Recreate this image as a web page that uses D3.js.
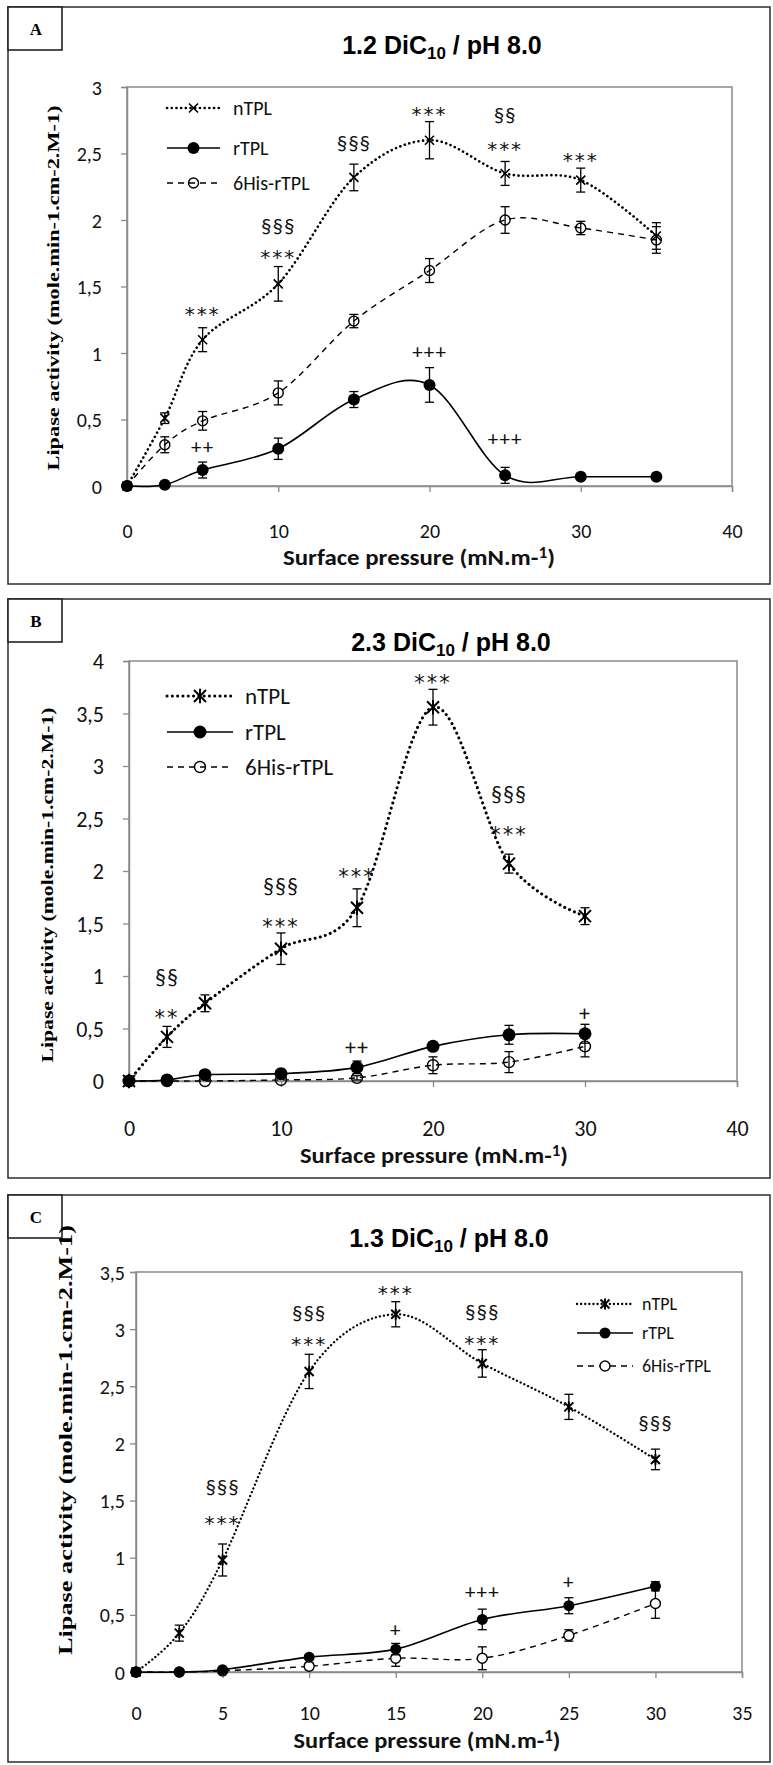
<!DOCTYPE html>
<html>
<head>
<meta charset="utf-8">
<script src="https://cdn.jsdelivr.net/npm/d3@7"></script>
<style>
  body { margin: 0; background: #fff; }
  svg { display: block; }
</style>
</head>
<body>
<svg id="chart"></svg>
<script>
// ---------- data ----------
const seriesNames = ["nTPL", "rTPL", "6His-rTPL"];

// panel A : 1.2 DiC10
const pressureA = [0, 2.5, 5, 10, 15, 20, 25, 30, 35];
const nTplA    = [0, 0.51, 1.10, 1.52, 2.32, 2.60, 2.35, 2.30, 1.88];
const nTplErrA = [0, 0.04, 0.09, 0.13, 0.10, 0.14, 0.09, 0.09, 0.10];
const rTplA    = [0, 0.01, 0.12, 0.28, 0.65, 0.76, 0.08, 0.07, 0.07];
const rTplErrA = [0, 0, 0.06, 0.08, 0.06, 0.13, 0.06, 0, 0];
const hisA     = [0, 0.31, 0.49, 0.70, 1.24, 1.62, 2.00, 1.94, 1.85];
const hisErrA  = [0, 0.06, 0.07, 0.09, 0.05, 0.09, 0.10, 0.05, 0.10];
const xTicksA = [0, 10, 20, 30, 40];
const yTicksA = [0, 0.5, 1, 1.5, 2, 2.5, 3];
// [pressure, activity level of the label, text]
const marksA = [
  [5, 1.34, "***"], [5, 0.29, "++"],
  [10, 1.95, "§§§"], [10, 1.77, "***"],
  [15, 2.58, "§§§"], [20, 2.84, "***"],
  [25, 2.79, "§§"], [25, 2.58, "***"], [30, 2.50, "***"],
  [20, 1.01, "+++"], [25, 0.35, "+++"]
];

// panel B : 2.3 DiC10
const pressureB = [0, 2.5, 5, 10, 15, 20, 25, 30];
const nTplB    = [0, 0.42, 0.74, 1.26, 1.65, 3.56, 2.07, 1.57];
const nTplErrB = [0, 0.10, 0.08, 0.15, 0.18, 0.17, 0.09, 0.08];
const rTplB    = [0, 0.01, 0.06, 0.07, 0.13, 0.33, 0.44, 0.45];
const rTplErrB = [0, 0, 0.02, 0.03, 0.06, 0.04, 0.09, 0.09];
const hisB     = [0, 0, 0, 0.01, 0.03, 0.15, 0.18, 0.33];
const hisErrB  = [0, 0, 0, 0, 0.02, 0.08, 0.10, 0.10];
const xTicksB = [0, 10, 20, 30, 40];
const yTicksB = [0, 0.5, 1, 1.5, 2, 2.5, 3, 3.5, 4];
const marksB = [
  [2.5, 0.98, "§§"], [2.5, 0.66, "**"],
  [10, 1.85, "§§§"], [10, 1.53, "***"],
  [15, 2.01, "***"], [20, 3.85, "***"],
  [25, 2.72, "§§§"], [25, 2.41, "***"],
  [15, 0.32, "++"], [30, 0.64, "+"]
];

// panel C : 1.3 DiC10
const pressureC = [0, 2.5, 5, 10, 15, 20, 25, 30];
const nTplC    = [0, 0.34, 0.98, 2.63, 3.13, 2.70, 2.32, 1.86];
const nTplErrC = [0, 0.07, 0.14, 0.15, 0.11, 0.12, 0.11, 0.09];
const rTplC    = [0, 0, 0.02, 0.13, 0.20, 0.46, 0.58, 0.75];
const rTplErrC = [0, 0, 0, 0.02, 0.05, 0.09, 0.07, 0.04];
const hisC     = [0, 0, 0.01, 0.05, 0.12, 0.12, 0.32, 0.60];
const hisErrC  = [0, 0, 0, 0.03, 0.07, 0.10, 0.05, 0.13];
const xTicksC = [0, 5, 10, 15, 20, 25, 30, 35];
const yTicksC = [0, 0.5, 1, 1.5, 2, 2.5, 3, 3.5];
const marksC = [
  [5, 1.62, "§§§"], [5, 1.36, "***"],
  [10, 3.14, "§§§"], [10, 2.92, "***"],
  [15, 3.37, "***"],
  [20, 3.15, "§§§"], [20, 2.93, "***"],
  [30, 2.18, "§§§"],
  [15, 0.37, "+"], [20, 0.70, "+++"], [25, 0.79, "+"]
];

// ---------- layout ----------
const W = 773, H = 1765;
const SANS = "Carlito, Lato, 'Liberation Sans', sans-serif";
const SERIF = "'Liberation Serif', 'DejaVu Serif', serif";
const ARIAL = "'Liberation Sans', Arial, sans-serif";
const STAR = "'DejaVu Sans', sans-serif";

const panels = [
  {
    label: "A", title: ["1.2 DiC", "10", " / pH 8.0"],
    box: { x0: 8, y0: 7, x1: 770, y1: 584 },
    plot: { left: 127, top: 87, right: 732, bottom: 486 },
    titleX: 442, titleY: 54, titleSize: 25,
    xDomain: [0, 40], yDomain: [0, 3], xTicks: xTicksA, yTicks: yTicksA,
    tickSize: 20, yLabelGap: 25, xLabelY: 538, xTitle: { x: 419, y: 565, len: 272, size: 22 },
    yTitle: { x: 53, y: 288, len: 365, size: 17 },
    x: pressureA,
    series: [
      { v: hisA, e: hisErrA }, { v: rTplA, e: rTplErrA }, { v: nTplA, e: nTplErrA }
    ],
    marks: marksA, markSize: 21,
    legend: { x0: 167, x1: 220, tx: 233, ys: [108, 148, 183], size: 20 },
    star: false, crossR: 4.5, dotR: 6, openR: 5, openFill: "none", dotDash: "0.1,4.6", dotW: 2.6
  },
  {
    label: "B", title: ["2.3 DiC", "10", " / pH 8.0"],
    box: { x0: 8, y0: 599, x1: 770, y1: 1178 },
    plot: { left: 129, top: 661, right: 737, bottom: 1081 },
    titleX: 451, titleY: 651, titleSize: 25,
    xDomain: [0, 40], yDomain: [0, 4], xTicks: xTicksB, yTicks: yTicksB,
    tickSize: 22, yLabelGap: 25, xLabelY: 1136, xTitle: { x: 434, y: 1163, len: 268, size: 22 },
    yTitle: { x: 47, y: 885, len: 355, size: 17 },
    x: pressureB,
    series: [
      { v: hisB, e: hisErrB }, { v: rTplB, e: rTplErrB }, { v: nTplB, e: nTplErrB }
    ],
    marks: marksB, markSize: 22,
    legend: { x0: 167, x1: 233, tx: 245, ys: [696, 732, 767], size: 23 },
    star: true, crossR: 6, dotR: 6.5, openR: 5.5, openFill: "none", dotDash: "0.1,5.2", dotW: 3
  },
  {
    label: "C", title: ["1.3 DiC", "10", " / pH 8.0"],
    box: { x0: 8, y0: 1195, x1: 770, y1: 1762 },
    plot: { left: 136, top: 1272, right: 742, bottom: 1672 },
    titleX: 449, titleY: 1247, titleSize: 25,
    xDomain: [0, 35], yDomain: [0, 3.5], xTicks: xTicksC, yTicks: yTicksC,
    tickSize: 20, yLabelGap: 11, xLabelY: 1720, xTitle: { x: 427, y: 1748, len: 267, size: 22 },
    yTitle: { x: 66, y: 1440, len: 430, size: 18 },
    x: pressureC,
    series: [
      { v: hisC, e: hisErrC }, { v: rTplC, e: rTplErrC }, { v: nTplC, e: nTplErrC }
    ],
    marks: marksC, markSize: 21,
    legend: { x0: 577, x1: 633, tx: 642, ys: [1304, 1333, 1366], size: 18 },
    star: true, crossR: 4.5, dotR: 5.5, openR: 5, openFill: "#fff", dotDash: "0.1,4", dotW: 2.3
  }
];

const svg = d3.select("#chart").attr("width", W).attr("height", H);
svg.append("rect").attr("width", W).attr("height", H).attr("fill", "#fff");

const fmt = d => String(d).replace(".", ",");

// vertical offset from visual centre to baseline, by glyph type
function baseShift(txt, fs) {
  if (txt[0] === "*") return fs * 0.62;
  if (txt[0] === "§") return fs * 0.32;
  return fs * 0.33;
}

// series: 0 = 6His (dashed, open), 1 = rTPL (solid, filled), 2 = nTPL (dotted, cross)
function lineStyle(sel, k, p) {
  sel.attr("fill", "none").attr("stroke", "#000");
  if (k === 0) sel.attr("stroke-width", 1.4).attr("stroke-dasharray", "6,5");
  if (k === 1) sel.attr("stroke-width", 1.6);
  if (k === 2) sel.attr("stroke-width", p.dotW).attr("stroke-dasharray", p.dotDash).attr("stroke-linecap", "round");
}

function drawMarker(g, k, p, cx, cy) {
  if (k === 0) {
    g.append("circle").attr("cx", cx).attr("cy", cy).attr("r", p.openR)
      .attr("fill", p.openFill).attr("stroke", "#000").attr("stroke-width", 1.4);
  } else if (k === 1) {
    g.append("circle").attr("cx", cx).attr("cy", cy).attr("r", p.dotR).attr("fill", "#000");
  } else {
    const r = p.crossR;
    const path = d3.path();
    path.moveTo(cx - r, cy - r); path.lineTo(cx + r, cy + r);
    path.moveTo(cx - r, cy + r); path.lineTo(cx + r, cy - r);
    if (p.star) { path.moveTo(cx, cy - r * 1.2); path.lineTo(cx, cy + r * 1.2); }
    g.append("path").attr("d", path.toString()).attr("stroke", "#000")
      .attr("stroke-width", p.star ? 2 : 1.6).attr("fill", "none");
  }
}

function drawPanel(p) {
  const g = svg.append("g");
  const b = p.box;

  // outer frame + panel letter
  g.append("rect").attr("x", b.x0).attr("y", b.y0)
    .attr("width", b.x1 - b.x0).attr("height", b.y1 - b.y0)
    .attr("fill", "none").attr("stroke", "#3a3a3a").attr("stroke-width", 1.6);
  g.append("rect").attr("x", b.x0).attr("y", b.y0).attr("width", 54).attr("height", 43)
    .attr("fill", "#fff").attr("stroke", "#222").attr("stroke-width", 1.6);
  g.append("text").attr("x", b.x0 + 28).attr("y", b.y0 + 28)
    .attr("text-anchor", "middle").attr("font-family", SERIF)
    .attr("font-weight", "bold").attr("font-size", 17).text(p.label);

  // title with subscript
  const t = g.append("text").attr("x", p.titleX).attr("y", p.titleY)
    .attr("text-anchor", "middle").attr("font-family", ARIAL)
    .attr("font-weight", "bold").attr("font-size", p.titleSize);
  t.append("tspan").text(p.title[0]);
  t.append("tspan").attr("font-size", p.titleSize * 0.68).attr("dy", 5).text(p.title[1]);
  t.append("tspan").attr("dy", -5).text(p.title[2]);

  const pl = p.plot;
  const x = d3.scaleLinear().domain(p.xDomain).range([pl.left, pl.right]);
  const y = d3.scaleLinear().domain(p.yDomain).range([pl.bottom, pl.top]);

  // plot frame
  g.append("rect").attr("x", pl.left).attr("y", pl.top)
    .attr("width", pl.right - pl.left).attr("height", pl.bottom - pl.top)
    .attr("fill", "none").attr("stroke", "#8a8a8a").attr("stroke-width", 1.5);

  // axes
  const xAxis = d3.axisBottom(x).tickValues(p.xTicks).tickSize(6).tickFormat(fmt);
  const yAxis = d3.axisLeft(y).tickValues(p.yTicks).tickSize(6).tickFormat(fmt);
  const gx = g.append("g").attr("transform", `translate(0,${pl.bottom})`).call(xAxis);
  const gy = g.append("g").attr("transform", `translate(${pl.left},0)`).call(yAxis);
  [gx, gy].forEach(a => {
    a.select(".domain").attr("stroke", "#8a8a8a").attr("stroke-width", 1.5);
    a.selectAll(".tick line").attr("stroke", "#8a8a8a").attr("stroke-width", 1.3);
    a.selectAll(".tick text").attr("font-family", SANS).attr("font-size", p.tickSize).attr("fill", "#111");
  });
  gx.selectAll(".tick text").attr("y", null).attr("dy", null)
    .attr("transform", `translate(0,${p.xLabelY - pl.bottom})`);
  gy.selectAll(".tick text").attr("x", -p.yLabelGap).attr("dy", "0.35em");

  // axis titles
  const xt = g.append("text").attr("x", p.xTitle.x).attr("y", p.xTitle.y)
    .attr("text-anchor", "middle").attr("font-family", SANS)
    .attr("font-size", p.xTitle.size).attr("font-weight", "bold").attr("fill", "#111")
    .attr("textLength", p.xTitle.len).attr("lengthAdjust", "spacingAndGlyphs");
  xt.append("tspan").text("Surface pressure (mN.m-");
  xt.append("tspan").attr("font-size", p.xTitle.size * 0.7).attr("dy", -7).text("1");
  xt.append("tspan").attr("dy", 7).text(")");

  g.append("text")
    .attr("transform", `translate(${p.yTitle.x},${p.yTitle.y}) rotate(-90)`)
    .attr("text-anchor", "middle").attr("dy", "0.35em")
    .attr("font-family", SERIF).attr("font-weight", "bold")
    .attr("font-size", p.yTitle.size)
    .attr("textLength", p.yTitle.len).attr("lengthAdjust", "spacingAndGlyphs")
    .text("Lipase activity  (mole.min-1.cm-2.M-1)");

  // series
  const line = d3.line().x(d => x(d[0])).y(d => y(d[1])).curve(d3.curveCardinal.tension(0));
  p.series.forEach((s, k) => {
    const pts = p.x.map((xv, i) => [xv, s.v[i], s.e[i]]);
    g.append("path").datum(pts).attr("d", line).call(lineStyle, k, p);
  });
  p.series.forEach((s, k) => {
    const pts = p.x.map((xv, i) => [xv, s.v[i], s.e[i]]);
    const eg = g.append("g").attr("stroke", "#000").attr("stroke-width", 1.3);
    pts.filter(d => d[2] > 0).forEach(d => {
      const cx = x(d[0]), y0 = y(d[1] - d[2]), y1 = y(d[1] + d[2]);
      eg.append("line").attr("x1", cx).attr("x2", cx).attr("y1", y0).attr("y2", y1);
      eg.append("line").attr("x1", cx - 4.5).attr("x2", cx + 4.5).attr("y1", y0).attr("y2", y0);
      eg.append("line").attr("x1", cx - 4.5).attr("x2", cx + 4.5).attr("y1", y1).attr("y2", y1);
    });
    const mg = g.append("g");
    pts.forEach(d => drawMarker(mg, k, p, x(d[0]), y(d[1])));
  });

  // significance labels
  g.append("g").selectAll("text").data(p.marks).join("text")
    .attr("x", d => x(d[0]))
    .attr("y", d => y(d[1]) + baseShift(d[2], p.markSize))
    .attr("text-anchor", "middle")
    .attr("font-family", d => d[2][0] === "*" ? STAR : SANS)
    .attr("font-size", d => d[2][0] === "*" ? p.markSize * 0.95 : p.markSize)
    .attr("letter-spacing", d => d[2][0] === "*" ? 2 : 1).attr("fill", "#111")
    .text(d => d[2]);

  // legend (nTPL, rTPL, 6His-rTPL top to bottom)
  const lg = p.legend;
  [2, 1, 0].forEach((k, row) => {
    const ly = lg.ys[row];
    g.append("line").attr("x1", lg.x0).attr("x2", lg.x1).attr("y1", ly).attr("y2", ly).call(lineStyle, k, p);
    drawMarker(g, k, p, (lg.x0 + lg.x1) / 2, ly);
    g.append("text").attr("x", lg.tx).attr("y", ly).attr("dy", "0.36em")
      .attr("font-family", SANS).attr("font-size", lg.size).attr("fill", "#111")
      .text(seriesNames[row]);
  });
}

panels.forEach(drawPanel);
</script>
</body>
</html>
